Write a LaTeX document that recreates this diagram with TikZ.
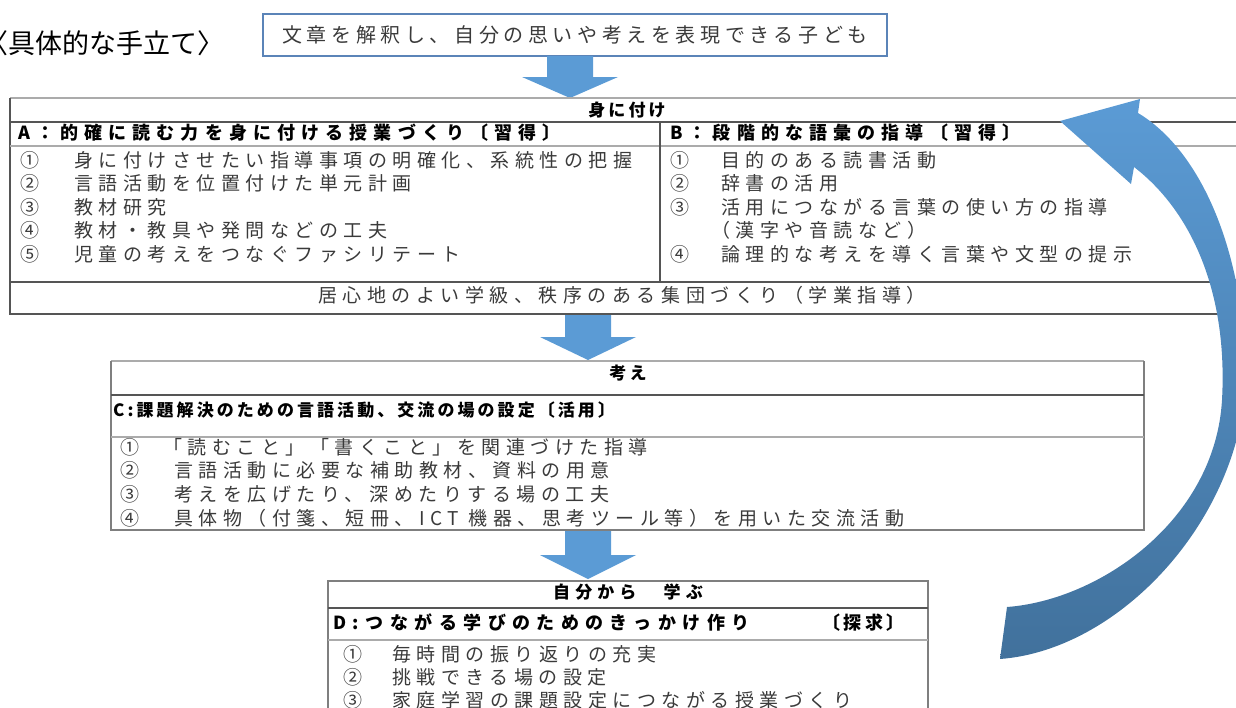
\documentclass[tikz,border=0pt]{standalone}
\usepackage{fontspec}
\newfontfamily\jp{Noto Sans CJK JP}
\definecolor{bodyc}{HTML}{3A3A3A}
\definecolor{arrowblue}{HTML}{5B9BD5}
\definecolor{arrowdark}{HTML}{41719C}
\definecolor{boxblue}{HTML}{5B84B8}
\definecolor{darkline}{HTML}{555555}
\definecolor{midline}{HTML}{7F7F7F}
\definecolor{lightline}{HTML}{ABABAB}
\newcommand\blockarr[4]{%
  \fill[arrowblue] (#1-23,#2) -- (#1+23,#2) -- (#1+23,#3) -- (#1+48,#3) -- (#1,#4) -- (#1-48,#3) -- (#1-23,#3) -- cycle;}
\tikzset{
  txt/.style={inner sep=0pt, anchor=west},
  body/.style={txt, text=bodyc, text height=16.7pt, text depth=2.3pt,
    font=\fontsize{19}{19}\selectfont\jp\addfontfeatures{LetterSpace=29}},
  hdr/.style={txt, text=black, text height=15.8pt, text depth=2.2pt,
    font=\fontsize{18}{18}\selectfont\jp\bfseries\addfontfeatures{LetterSpace=#1}},
  hdr/.default=34,
  shdr/.style={txt, text=black, text height=15pt, text depth=2pt,
    font=\fontsize{17}{17}\selectfont\jp\bfseries\addfontfeatures{LetterSpace=#1}},
  shdr/.default=18,
  tline/.style={line width=1.2pt},
}
\begin{document}
\begin{tikzpicture}[x=1pt,y=-1pt]
\useasboundingbox (0,0) rectangle (1236,707);
\clip (0,0) rectangle (1236,707);
% title
\node[txt, text=black, text height=23.8pt, text depth=3.2pt, font=\fontsize{27}{27}\selectfont\jp] (title) at (-19,43) {〈具体的な手立て〉};
% top box
\node[draw=boxblue, line width=1.5pt, minimum width=624pt, minimum height=42pt, inner sep=0pt, anchor=north west] (topbox) at (262,13) {};
\node[body, anchor=center, text height=17.6pt, text depth=2.4pt, font=\fontsize{20}{20}\selectfont\jp\addfontfeatures{LetterSpace=23}] (goal) at (575,35) {文章を解釈し、自分の思いや考えを表現できる子ども};
\blockarr{570}{56}{77}{98}
% box 1
\draw[tline, lightline] (10,98) -- (1240,98);
\draw[tline, darkline] (10,98) -- (10,314) -- (1240,314);
\draw[tline, darkline] (10,122) -- (1240,122);
\draw[tline, lightline] (10,146) -- (1240,146);
\draw[tline, darkline] (10,282) -- (1240,282);
\draw[tline, darkline] (660,122) -- (660,282);
\node[shdr, anchor=center] (h1) at (627,110) {身に付け};
\node[hdr] (ah) at (18,133) {A：的確に読む力を身に付ける授業づくり〔習得〕};
\node[hdr] (bh) at (670,133) {B：段階的な語彙の指導〔習得〕};
\node[body] (a1n) at (20,160) {①};
\node[body] (a1) at (74,160) {身に付けさせたい指導事項の明確化、系統性の把握};
\node[body] (a2n) at (20,183.5) {②};
\node[body] (a2) at (74,183.5) {言語活動を位置付けた単元計画};
\node[body] (a3n) at (20,207) {③};
\node[body] (a3) at (74,207) {教材研究};
\node[body] (a4n) at (20,230.5) {④};
\node[body] (a4) at (74,230.5) {教材・教具や発問などの工夫};
\node[body] (a5n) at (20,254) {⑤};
\node[body] (a5) at (74,254) {児童の考えをつなぐファシリテート};
\node[body] (b1n) at (670,160) {①};
\node[body] (b1) at (721,160) {目的のある読書活動};
\node[body] (b2n) at (670,183.5) {②};
\node[body] (b2) at (721,183.5) {辞書の活用};
\node[body] (b3n) at (670,207) {③};
\node[body] (b3) at (721,207) {活用につながる言葉の使い方の指導};
\node[body] (b3b) at (711,230.5) {（漢字や音読など）};
\node[body] (b4n) at (670,254) {④};
\node[body] (b4) at (721,254) {論理的な考えを導く言葉や文型の提示};
\node[body, anchor=center] (base) at (622,295) {居心地のよい学級、秩序のある集団づくり（学業指導）};
\blockarr{588}{315}{337}{360}
% box C
\draw[tline, lightline] (111,361) -- (1144,361);
\draw[tline, midline] (111,361) -- (111,530) -- (1144,530) -- (1144,361);
\draw[tline, darkline] (111,395) -- (1144,395);
\draw[tline, lightline] (111,437) -- (1144,437);
\node[shdr, anchor=center] (h2) at (628,373) {考え};
\node[shdr] (ch) at (113,410) {C:課題解決のための言語活動、交流の場の設定〔活用〕};
\node[body] (c1n) at (120,447) {①};
\node[body] (c1) at (163,447) {「読むこと」「書くこと」を関連づけた指導};
\node[body] (c2n) at (120,470.5) {②};
\node[body] (c2) at (174,470.5) {言語活動に必要な補助教材、資料の用意};
\node[body] (c3n) at (120,494) {③};
\node[body] (c3) at (174,494) {考えを広げたり、深めたりする場の工夫};
\node[body] (c4n) at (120,518) {④};
\node[body] (c4) at (174,518) {具体物（付箋、短冊、ICT 機器、思考ツール等）を用いた交流活動};
\blockarr{588}{531}{555}{579}
% box D
\draw[tline, midline] (328,712) -- (328,581) -- (928,581) -- (928,712);
\draw[tline, darkline] (328,608) -- (928,608);
\draw[tline, lightline] (328,640) -- (928,640);
\node[shdr=30, anchor=center] (h3) at (628,592) {自分から　学ぶ};
\node[hdr=36] (dh) at (333,623) {D:つながる学びのためのきっかけ作り};
\node[hdr=20, anchor=east] (dt) at (905,623) {〔探求〕};
\node[body] (d1n) at (343,654) {①};
\node[body] (d1) at (392,654) {毎時間の振り返りの充実};
\node[body] (d2n) at (343,677) {②};
\node[body] (d2) at (392,677) {挑戦できる場の設定};
\node[body] (d3n) at (343,700) {③};
\node[body] (d3) at (392,700) {家庭学習の課題設定につながる授業づくり};
% curved return arrow
\shade[top color=arrowblue, bottom color=arrowdark]
  (1000,659) -- (1007,607) .. controls (1100,600) and (1215,520) .. (1222,400)
  .. controls (1228,290) and (1190,210) .. (1134,167) -- (1131,184) -- (1060,121)
  -- (1140,99) -- (1138,113) .. controls (1200,150) and (1245,250) .. (1246,380)
  .. controls (1240,520) and (1120,650) .. (1000,659) -- cycle;
\end{tikzpicture}
\end{document}
